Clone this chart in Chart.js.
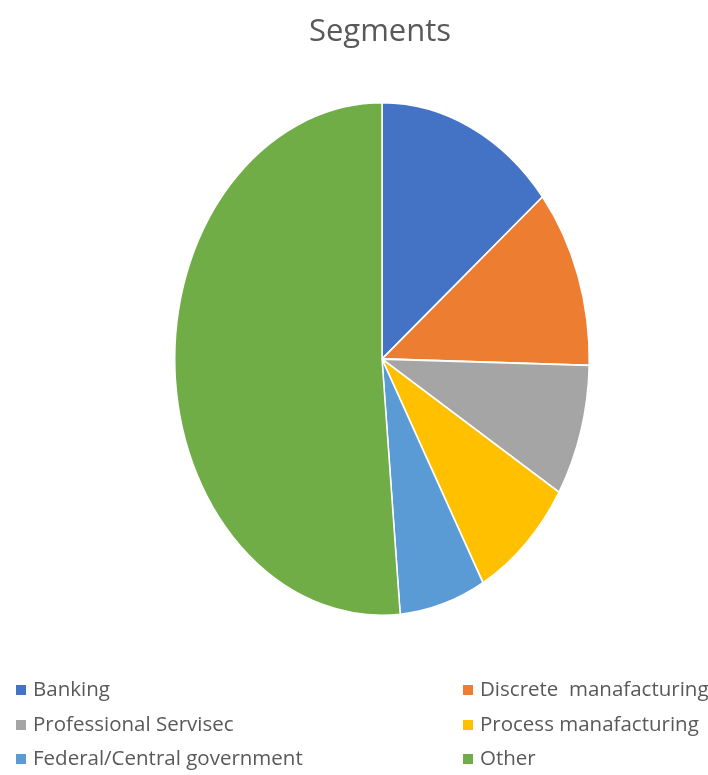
<!DOCTYPE html>
<html>
<head>
<meta charset="utf-8">
<script src="https://cdn.jsdelivr.net/npm/chart.js@4"></script>
<style>
    body { margin: 0; background: #fff; width: 708px; height: 775px; position: relative; overflow: hidden;
           font-family: "Open Sans", sans-serif; color: #595959; }
    #title { position: absolute; top: 8px; left: 0; width: 760px; text-align: center; font-size: 31px; }
    #wrap { position: absolute; left: 0; top: 0; width: 708px; height: 775px; }
    .leg { position: absolute; font-size: 20.5px; white-space: pre; line-height: 24px; }
    .leg i { display: inline-block; width: 10px; height: 10px; margin-right: 7px; vertical-align: 1px; }
</style>
</head>
<body>
<div id="wrap"><canvas id="pieChart"></canvas></div>
<div id="title">Segments</div>
<div id="legend"></div>
<script>
// Segment shares (%)
const segmentLabels = ['Banking', 'Discrete  manafacturing', 'Professional Servisec', 'Process manafacturing', 'Federal/Central government', 'Other'];
const segmentValues = [14.1, 11.3, 8.3, 8.2, 6.7, 51.4];
const segmentColors = ['#4472C4', '#ED7D31', '#A5A5A5', '#FFC000', '#5B9BD5', '#70AD47'];

// The reference pie is an ellipse, so squash the arcs vertically around the centre
const stretchPlugin = {
    id: 'stretch',
    beforeDatasetsDraw(chart) {
        const arc = chart.getDatasetMeta(0).data[0];
        const ctx = chart.ctx;
        ctx.save();
        ctx.translate(arc.x, arc.y);
        ctx.scale(1, 256 / 207);
        ctx.translate(-arc.x, -arc.y);
    },
    afterDatasetsDraw(chart) {
        chart.ctx.restore();
    }
};

new Chart(document.getElementById('pieChart'), {
    type: 'pie',
    data: {
        labels: segmentLabels,
        datasets: [{
            data: segmentValues,
            backgroundColor: segmentColors,
            borderColor: '#fff',
            borderWidth: 1.5
        }]
    },
    options: {
        responsive: true,
        maintainAspectRatio: false,
        animation: false,
        layout: { padding: { left: 174, right: 118, top: 151, bottom: 208 } },
        plugins: {
            legend: { display: false },
            tooltip: { enabled: false }
        }
    },
    plugins: [stretchPlugin]
});

// Two-column legend like the Office original
const legendEl = document.getElementById('legend');
segmentLabels.forEach((label, i) => {
    const item = document.createElement('div');
    item.className = 'leg';
    item.style.left = (i % 2 === 0 ? 16 : 463) + 'px';
    item.style.top = (676 + Math.floor(i / 2) * 34.5) + 'px';
    item.innerHTML = `<i style="background:${segmentColors[i]}"></i>${label}`;
    legendEl.appendChild(item);
});
</script>
</body>
</html>
